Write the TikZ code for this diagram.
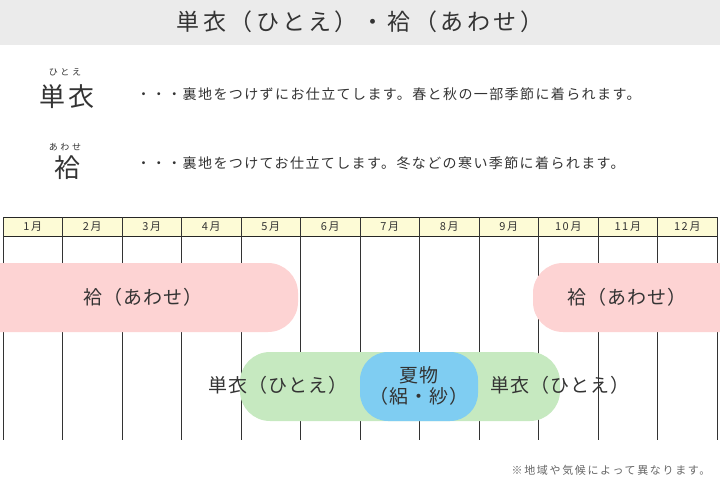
\documentclass[tikz,border=0pt]{standalone}
\usepackage{fontspec}
\setmainfont{Noto Sans CJK JP}
\begin{document}
\begin{tikzpicture}[x=1pt,y=-1pt,every node/.style={black!80}]
	\definecolor{bandgray}{HTML}{EBEBEB}
	\definecolor{headyel}{HTML}{FDFBD6}
	\definecolor{awasepink}{HTML}{FDD3D3}
	\definecolor{hitoegreen}{HTML}{C6E9C0}
	\definecolor{natsublue}{HTML}{7FCDF2}
	\tikzset{
		desc/.style={anchor=west,font=\fontsize{14}{16}\selectfont\addfontfeature{LetterSpace=10}},
		kanji/.style={font=\fontsize{26}{28}\selectfont\addfontfeature{LetterSpace=12}},
		ruby/.style={font=\fontsize{9}{10}\selectfont\addfontfeature{LetterSpace=30}},
		month/.style={font=\fontsize{11}{12}\selectfont\addfontfeature{LetterSpace=15}},
		barlabel/.style={font=\fontsize{19}{21}\selectfont\addfontfeature{LetterSpace=6},align=center}
	}
	\useasboundingbox (0,0) rectangle (720,487);

	% title
	\fill[bandgray] (0,0) rectangle (720,45);
	\node[font=\fontsize{23}{25}\selectfont\addfontfeature{LetterSpace=15}] (title) at (360,22) {単衣（ひとえ）・袷（あわせ）};

	% legend
	\node[kanji] (hitoe) at (67,97) {単衣};
	\node[ruby] (hitoeruby) at (65,72) {ひとえ};
	\node[desc] (hitoedesc) at (133,94) {・・・裏地をつけずにお仕立てします。春と秋の一部季節に着られます。};
	\node[kanji] (awase) at (67,168) {袷};
	\node[ruby] (awaseruby) at (65,147) {あわせ};
	\node[desc] (awasedesc) at (133,163) {・・・裏地をつけてお仕立てします。冬などの寒い季節に着られます。};

	% calendar
	\fill[headyel] (3,217) rectangle (717,236);
	\draw[black!85,thin] (3,217) -- (717,217) (3,236) -- (717,236);
	\foreach \m in {0,...,12}
		\draw[black!80,thin] ({3+\m*59.5},217) -- ({3+\m*59.5},440);
	\foreach \m in {1,...,12}
		\node[month] (m\m) at ({3+(\m-0.5)*59.5},227) {\m 月};

	% bars
	\fill[awasepink,rounded corners=30] (-40,263) rectangle (298,332);
	\fill[awasepink,rounded corners=30] (533,263) rectangle (760,332);
	\fill[hitoegreen,rounded corners=30] (240,352) rectangle (560,421);
	\fill[natsublue,rounded corners=28] (360,352) rectangle (478,421);
	\node[barlabel] (awasel) at (143,297) {袷（あわせ）};
	\node[barlabel] (awaser) at (627,297) {袷（あわせ）};
	\node[barlabel] (hitoel) at (278,385) {単衣（ひとえ）};
	\node[barlabel] (hitoer) at (560,385) {単衣（ひとえ）};
	\node[barlabel] (natsu) at (419,386) {夏物\\（絽・紗）};

	\node[font=\fontsize{11}{12}\selectfont\addfontfeature{LetterSpace=15},anchor=east,black!60] (note) at (714,470) {※地域や気候によって異なります。};
\end{tikzpicture}
\end{document}
